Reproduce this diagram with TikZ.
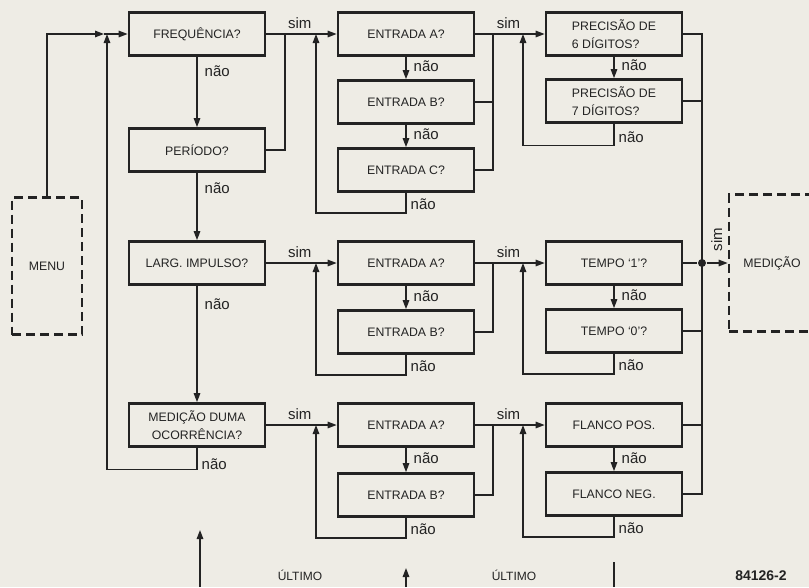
\documentclass[tikz,border=0pt]{standalone}
\usepackage{fontspec}
\setmainfont{Liberation Sans}
\usetikzlibrary{arrows.meta,positioning}
\definecolor{paper}{RGB}{238,236,229}
\definecolor{ink}{RGB}{35,35,35}

\begin{document}
\begin{tikzpicture}[
  x=1pt,y=-1pt,>={Triangle[length=9pt,width=6.5pt]},line width=1.4pt,ink,
  ask/.style={draw,line width=2.7pt,minimum width=136pt,minimum height=43pt,
    inner sep=2pt,align=center,font=\fontsize{12.3}{18}\selectfont},
  term/.style={draw,line width=2.7pt,dash pattern=on 9pt off 5pt,
    minimum height=137pt,font=\fontsize{12.3}{15}\selectfont},
  word/.style={inner sep=0pt,font=\fontsize{15}{18}\selectfont},
  nao/.style={word,anchor=base west,xshift=7pt},
  back/.style={word,anchor=base west,xshift=4pt,yshift=3pt},
  sim/.style={word,anchor=base west,pos=0.3,yshift=6pt},
  junction/.style={circle,fill=ink,inner sep=0pt,minimum size=8pt}
]
  \useasboundingbox (0,0) rectangle (809,587);
  \clip (0,0) rectangle (809,587);
  \fill[paper] (0,0) rectangle (809,587);

  % menu and measurement
  \node[term,minimum width=70pt] (menu) at (47,266) {MENU};
  \node[term,minimum width=86pt] (med) at (772,263) {MEDIÇÃO};

  % main column
  \node[ask] (freq) at (197,34) {FREQUÊNCIA?};
  \node[ask] (per)  at (197,150) {PERÍODO?};
  \node[ask] (larg) at (197,263) {LARG. IMPULSO?};
  \node[ask] (ocor) at (197,425) {MEDIÇÃO DUMA\\OCORRÊNCIA?};

  % inputs
  \node[ask] (entA1) at (406,34) {ENTRADA A?};
  \node[ask] (entB1) at (406,102) {ENTRADA B?};
  \node[ask] (entC1) at (406,170) {ENTRADA C?};
  \node[ask] (entA2) at (406,263) {ENTRADA A?};
  \node[ask] (entB2) at (406,332) {ENTRADA B?};
  \node[ask] (entA3) at (406,425) {ENTRADA A?};
  \node[ask] (entB3) at (406,495) {ENTRADA B?};

  % options
  \node[ask,align=left] (prec6) at (614,34) {PRECISÃO DE\\6 DÍGITOS?};
  \node[ask,align=left] (prec7) at (614,101) {PRECISÃO DE\\7 DÍGITOS?};
  \node[ask] (t1) at (614,263) {TEMPO ‘1’?};
  \node[ask] (t0) at (614,331) {TEMPO ‘0’?};
  \node[ask] (fpos) at (614,425) {FLANCO POS.};
  \node[ask] (fneg) at (614,494) {FLANCO NEG.};

  \node[junction] (tap) at (702,263) {};

  % junctions
  \coordinate (m0) at (104,34);
  \coordinate (j0) at (107,34);
  \coordinate (k1) at (285,34);
  \coordinate (j1) at (316,34);
  \coordinate (j2) at (316,263);
  \coordinate (j3) at (316,425);
  \coordinate (k2) at (493,34);
  \coordinate (k3) at (493,263);
  \coordinate (k4) at (493,425);
  \coordinate (j4) at (523,34);
  \coordinate (j5) at (523,263);
  \coordinate (j6) at (523,425);

  \draw[->] (menu.north) |- (m0);
  \draw[->] (m0) -- (freq);
  \draw[->] (freq) -- (per) node[nao,pos=0.28] {não};
  \draw[->] (per) -- (larg) node[nao,pos=0.31] {não};
  \draw[->] (larg) -- (ocor) node[nao,pos=0.2] {não};
  \draw[->] (ocor.south) -- ++(0,21.5) node[back,yshift=-3pt] {não} -| (j0);

  \draw[->] (freq) -- (entA1) node[sim] {sim};
  \draw (per.east) -| (k1);
  \draw[->] (larg) -- (entA2) node[sim] {sim};
  \draw[->] (ocor) -- (entA3) node[sim] {sim};

  \foreach \a/\b in {entA1/entB1,entB1/entC1,entA2/entB2,entA3/entB3,prec6/prec7,t1/t0,fpos/fneg}
    \draw[->] (\a) -- (\b) node[nao,pos=0.65] {não};
  \foreach \n/\j in {entC1/j1,entB2/j2,entB3/j3,t0/j5,fneg/j6}
    \draw[->] (\n.south) -- ++(0,20) node[back] {não} -| (\j);
  \draw[->] (prec7.south) -- ++(0,21.5) node[back] {não} -| (j4);

  \draw[->] (entA1) -- (prec6) node[sim] {sim};
  \draw[->] (entA2) -- (t1) node[sim] {sim};
  \draw[->] (entA3) -- (fpos) node[sim] {sim};
  \foreach \n/\k in {entB1/k2,entC1/k2,entB2/k3,entB3/k4}
    \draw (\n.east) -| (\k);

  % to the measurement
  \draw (prec6.east) -| (fneg.east -| tap) -- (fneg.east);
  \foreach \n in {prec7,t0,fpos}
    \draw (\n.east) -- (\n.east -| tap);
  \draw (t1) -- (tap);
  \draw[->] (tap) -- (med);
  \node[word,rotate=90,anchor=base west] (vsim) at (722,252) {sim};

  % bottom
  \coordinate (u1) at (200,587);
  \coordinate (u1t) at (200,530);
  \coordinate (u2) at (406,587);
  \coordinate (u2t) at (406,568);
  \coordinate (u3) at (614,587);
  \coordinate (u3t) at (614,562);
  \draw[->] (u1) -- (u1t);
  \draw[->] (u2) -- (u2t);
  \draw (u3) -- (u3t);
  \node[font=\fontsize{12}{14}\selectfont,anchor=base] (last1) at (300,580) {ÚLTIMO};
  \node[font=\fontsize{12}{14}\selectfont,anchor=base] (last2) at (514,580) {ÚLTIMO};
  \node[font=\bfseries\fontsize{14}{16}\selectfont,anchor=base] (fig) at (761,580) {84126-2};
\end{tikzpicture}
\end{document}
